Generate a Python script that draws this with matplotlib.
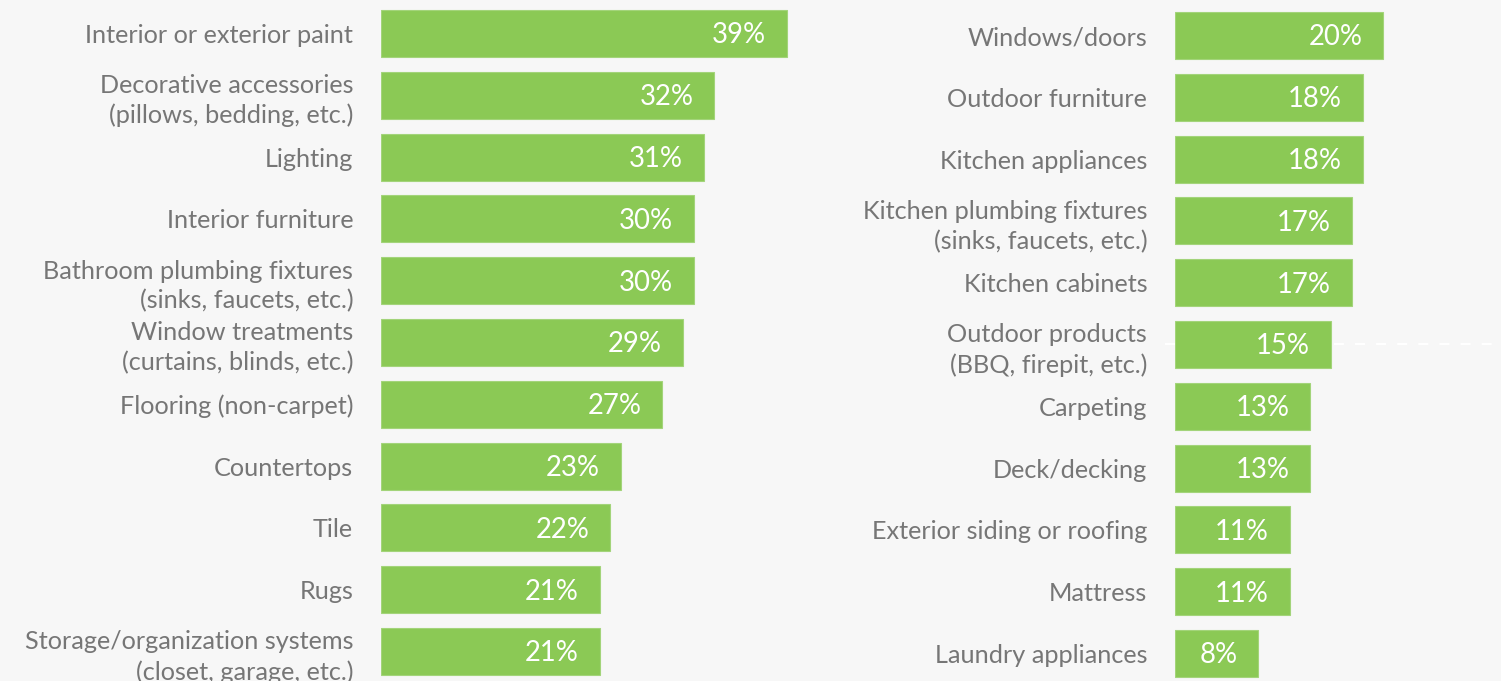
import matplotlib
matplotlib.use("Agg")
from matplotlib import pyplot as plt

# survey shares, left column
left_labels = ["Interior or exterior paint", "Decorative accessories\n(pillows, bedding, etc.)",
               "Lighting", "Interior furniture", "Bathroom plumbing fixtures\n(sinks, faucets, etc.)",
               "Window treatments\n(curtains, blinds, etc.)", "Flooring (non-carpet)", "Countertops",
               "Tile", "Rugs", "Storage/organization systems\n(closet, garage, etc.)"]
left_values = [39, 32, 31, 30, 30, 29, 27, 23, 22, 21, 21]

# survey shares, right column
right_labels = ["Windows/doors", "Outdoor furniture", "Kitchen appliances",
                "Kitchen plumbing fixtures\n(sinks, faucets, etc.)", "Kitchen cabinets",
                "Outdoor products\n(BBQ, firepit, etc.)", "Carpeting", "Deck/decking",
                "Exterior siding or roofing", "Mattress", "Laundry appliances"]
right_values = [20, 18, 18, 17, 17, 15, 13, 13, 11, 11, 8]

bg = "#f7f7f7"
green = "#8bc955"
grey = "#767676"
plt.rcParams['font.family'] = ['Lato', 'DejaVu Sans']

W, H = 1501, 681
px_per_pct = 10.42
fig = plt.figure(figsize=(W / 100, H / 100), dpi=100, facecolor=bg)


def panel(x0, width, top_center, labels, values):
    ax = fig.add_axes([x0 / W, 0, width / W, 1])
    ax.set_facecolor(bg)
    n = len(values)
    pos = list(range(n))
    ax.barh(pos, values, height=0.76, color=green, edgecolor="#a3d47a", linewidth=0.8, zorder=2)
    for p, v in zip(pos, values):
        ax.text(v - 21 / px_per_pct, p + 0.03, f"{v}%", ha="right", va="center",
                color="white", fontsize=19.8, zorder=3)
    step = 61.8
    ax.set_ylim((H - top_center) / step, -top_center / step)
    ax.set_xlim(0, width / px_per_pct)
    ax.set_yticks(pos)
    ax.set_yticklabels(labels, fontsize=18.2, color=grey, linespacing=1.35)
    ax.tick_params(axis="y", length=0, pad=20)
    ax.set_xticks([])
    for s in ax.spines.values():
        s.set_visible(False)
    return ax


ax1 = panel(381, 480, 33.5, left_labels, left_values)
ax2 = panel(1175, W - 1175, 35.5, right_labels, right_values)

# dashed guide behind the outdoor products bar
ax2.axhline(5, xmin=-0.03, xmax=1, color="white", lw=1.6, ls=(0, (4.5, 5)),
            zorder=1, clip_on=False)

fig.savefig("out.png", dpi=100, facecolor=bg)
